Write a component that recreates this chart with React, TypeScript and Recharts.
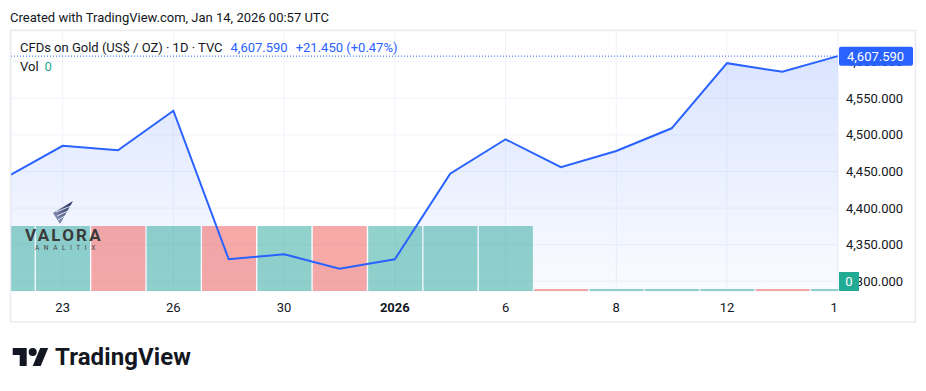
import React from 'react';
import { ComposedChart, Area, Line, Bar, Cell, XAxis, YAxis, CartesianGrid, ReferenceLine } from 'recharts';

// daily closes, TVC gold CFD
const dates = ['Dec 22', 'Dec 23', 'Dec 24', 'Dec 26', 'Dec 29', 'Dec 30', 'Dec 31', 'Jan 2', 'Jan 5', 'Jan 6', 'Jan 7', 'Jan 8', 'Jan 9', 'Jan 12', 'Jan 13', 'Jan 14'];
const closes = [4443, 4485, 4479, 4533, 4330, 4337, 4317, 4330, 4447, 4494, 4456, 4478, 4509, 4598, 4586.14, 4607.59];
const volumes = [1, 1, 1, 1, 1, 1, 1, 1, 1, 1, 0, 0, 0, 0, 0, 0];

const tickDates = ['Dec 23', 'Dec 26', 'Dec 30', 'Jan 2', 'Jan 6', 'Jan 8', 'Jan 12', 'Jan 14'];
const tickLabels = ['23', '26', '30', '2026', '6', '8', '12', '14'];
const priceTicks = [4300, 4350, 4400, 4450, 4500, 4550, 4600];

const UP = '#26A69A';
const DOWN = '#EF5350';
const BLUE = '#2962FF';
const TEXT = '#131722';
const FONT = 'Roboto, "Liberation Sans", sans-serif';

const W = 926;
const H = 391;
const PLOT_RIGHT = 838;
const X_DOMAIN: [number, number] = [0.067, 15.005];
const PRICE_DOMAIN: [number, number] = [4286.7, 4643.3];
const VOL_DOMAIN: [number, number] = [0, 4.015];

const data = dates.map((d, i) => ({
    i,
    date: d,
    close: closes[i],
    vol: volumes[i],
    up: i === 0 || closes[i] >= closes[i - 1],
}));

const last = closes[closes.length - 1];
const prev = closes[closes.length - 2];
const chg = last - prev;
const chgPct = (chg / prev) * 100;

const fmt = (v: number) => v.toLocaleString('en-US', { minimumFractionDigits: 3, maximumFractionDigits: 3 });

const TimeTick = (props: any) => {
    const { x, y, payload } = props;
    const k = tickDates.indexOf(dates[payload.value]);
    const label = tickLabels[k];
    const id = `tclip${payload.value}`;
    return (
        <g>
            <defs>
                <clipPath id={id}>
                    <rect x={x - 40} y={y - 10} width={PLOT_RIGHT - (x - 40)} height={40} />
                </clipPath>
            </defs>
            <text
                x={x}
                y={y}
                dy="0.71em"
                textAnchor="middle"
                fill={TEXT}
                fontSize={13}
                fontWeight={label.length === 4 ? 700 : 400}
                fontFamily={FONT}
                clipPath={`url(#${id})`}
            >
                {label}
            </text>
        </g>
    );
};

const PriceTick = (props: any) => {
    const { x, y, payload } = props;
    return (
        <text x={x} y={y} dy="0.35em" textAnchor="start" fill={TEXT} fontSize={13} fontFamily={FONT}>
            {fmt(payload.value)}
        </text>
    );
};

const LastPriceLabel = (props: any) => {
    const vb = props.viewBox;
    if (!vb) return null;
    const x = vb.x + vb.width + 1;
    return (
        <g>
            <rect x={x} y={vb.y - 9.5} width={74} height={19} rx={2} fill={BLUE} />
            <text x={x + 8} y={vb.y} dy="0.35em" fill="#fff" fontSize={13} fontFamily={FONT}>
                {fmt(last)}
            </text>
        </g>
    );
};

const VolLabel = (props: any) => {
    const vb = props.viewBox;
    if (!vb) return null;
    const x = vb.x + vb.width + 1;
    return (
        <g>
            <rect x={x} y={vb.y - 19} width={20} height={19} fill="#22AB94" />
            <text x={x + 10} y={vb.y - 9.5} dy="0.35em" textAnchor="middle" fill="#fff" fontSize={13} fontFamily={FONT}>
                {volumes[volumes.length - 1]}
            </text>
        </g>
    );
};

const App: React.FC = () => {
    return (
        <div style={{ position: 'absolute', left: 0, top: 0, width: W, height: H, background: '#fff', overflow: 'hidden' }}>
            <ComposedChart
                width={W}
                height={H}
                data={data}
                margin={{ top: 30, right: 11, bottom: 69, left: 11 }}
            >
                <defs>
                    <linearGradient id="areaFill" x1="0" y1="0" x2="0" y2="1">
                        <stop offset="0%" stopColor={BLUE} stopOpacity={0.28} />
                        <stop offset="100%" stopColor={BLUE} stopOpacity={0.04} />
                    </linearGradient>
                </defs>
                <CartesianGrid stroke="#F0F3FA" strokeWidth={1} />
                <XAxis
                    type="number"
                    dataKey="i"
                    domain={X_DOMAIN}
                    allowDataOverflow
                    ticks={tickDates.map((d) => dates.indexOf(d))}
                    tick={<TimeTick />}
                    tickMargin={6}
                    height={31}
                    axisLine={false}
                    tickLine={false}
                />
                <YAxis
                    orientation="right"
                    width={77}
                    domain={PRICE_DOMAIN}
                    allowDataOverflow
                    ticks={priceTicks}
                    tick={<PriceTick />}
                    axisLine={false}
                    tickLine={false}
                />
                <YAxis yAxisId="vol" hide domain={VOL_DOMAIN} allowDataOverflow />
                <Area
                    dataKey="close"
                    stroke="none"
                    fill="url(#areaFill)"
                    isAnimationActive={false}
                    activeDot={false}
                />
                <Bar yAxisId="vol" dataKey="vol" barSize={54} minPointSize={2} isAnimationActive={false}>
                    {data.map((d) => (
                        <Cell key={d.date} fill={d.up ? UP : DOWN} fillOpacity={0.5} />
                    ))}
                </Bar>
                <Line
                    dataKey="close"
                    stroke={BLUE}
                    strokeWidth={2}
                    dot={false}
                    activeDot={false}
                    isAnimationActive={false}
                />
            </ComposedChart>

            {/* second layer with the same scales: last-value markers sit above the axis labels */}
            <div style={{ position: 'absolute', left: 0, top: 0 }}>
                <ComposedChart
                    width={W}
                    height={H}
                    data={data}
                    margin={{ top: 30, right: 88, bottom: 100, left: 11 }}
                >
                    <XAxis type="number" dataKey="i" hide domain={X_DOMAIN} allowDataOverflow />
                    <YAxis hide domain={PRICE_DOMAIN} allowDataOverflow />
                    <YAxis yAxisId="vol" hide domain={VOL_DOMAIN} allowDataOverflow />
                    <ReferenceLine y={last} stroke={BLUE} strokeWidth={1} strokeDasharray="1 2" label={<LastPriceLabel />} />
                    <ReferenceLine yAxisId="vol" y={0} stroke="none" label={<VolLabel />} />
                </ComposedChart>
            </div>

            <svg width={W} height={H} style={{ position: 'absolute', left: 0, top: 0, pointerEvents: 'none' }}>
                <rect x={10.5} y={30.5} width={905} height={291.5} fill="none" stroke="#E9EBF0" strokeWidth={1.5} />

                <text x={10} y={21.5} fill={TEXT} fontSize={13} fontFamily={FONT}>
                    Created with TradingView.com, Jan 14, 2026 00:57 UTC
                </text>

                <text x={20} y={51.5} fill={TEXT} fontSize={13} fontFamily={FONT}>
                    CFDs on Gold (US$ / OZ) · 1D · TVC
                    <tspan dx={8} fill={BLUE}>{fmt(last)}</tspan>
                    <tspan dx={8} fill={BLUE}>
                        {`+${chg.toFixed(3)} (+${chgPct.toFixed(2)}%)`}
                    </tspan>
                </text>
                <text x={20} y={70.5} fill={TEXT} fontSize={13} fontFamily={FONT}>
                    Vol
                    <tspan dx={6} fill="#22AB94">{volumes[volumes.length - 1]}</tspan>
                </text>

                {/* valora watermark */}
                <defs>
                    <linearGradient id="valoraG" x1="1" y1="0" x2="0" y2="1">
                        <stop offset="0%" stopColor="#1E2A5C" />
                        <stop offset="100%" stopColor="#9AA5C6" />
                    </linearGradient>
                </defs>
                <polygon points="73,201 53,213 60,224" fill="url(#valoraG)" />
                <line x1={56} y1={212} x2={71} y2={206} stroke="#fff" strokeWidth={0.8} />
                <line x1={57} y1={216} x2={68} y2={211} stroke="#fff" strokeWidth={0.8} />
                <line x1={58} y1={220} x2={65} y2={216} stroke="#fff" strokeWidth={0.8} />
                <text x={25} y={241} fill="#3A3A3A" fontSize={17} fontWeight={700} letterSpacing={2.2} fontFamily={FONT}>
                    VALORA
                </text>
                <text x={35} y={249.5} fill="#444" fontSize={6.5} letterSpacing={4.6} fontFamily={FONT}>
                    ANALITIX
                </text>

                {/* tradingview logo */}
                <g transform="translate(12.7,344)" fill={TEXT}>
                    <path d="M14 22H7V11H0V4h14v18zM28 22h-8l7.5-18h8L28 22z" />
                    <circle cx={20} cy={8} r={4} />
                </g>
                <text x={55} y={365} fill={TEXT} fontSize={24} fontWeight={700} letterSpacing={0.1} fontFamily={FONT}>
                    TradingView
                </text>
            </svg>
        </div>
    );
};

export default App;
